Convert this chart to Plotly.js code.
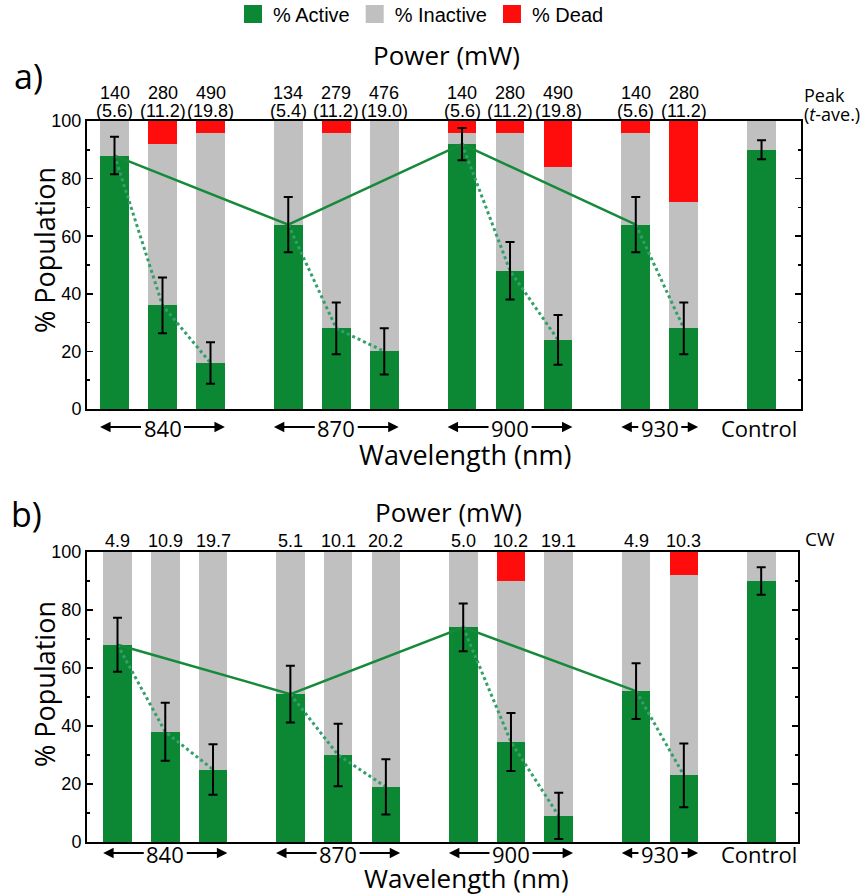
<!DOCTYPE html>
<html><head><meta charset="utf-8">
<script src="https://cdn.plot.ly/plotly-3.0.1.min.js"></script>
<style>html,body{margin:0;padding:0;background:#fff}#chart{width:862px;height:896px}</style>
</head><body><div id="chart"></div>
<script>
// ---------- data ----------
const wavelengths = ["840", "870", "900", "930"];
const controlLabel = "Control";
const barGroup = [0, 0, 0, 1, 1, 1, 2, 2, 2, 3, 3, 4];   // 4 = control

// panel a (pulsed): peak power (time-averaged power)
const peakPowerA = ["140", "280", "490", "134", "279", "476", "140", "280", "490", "140", "280", ""];
const avePowerA  = ["(5.6)", "(11.2)", "(19.8)", "(5.4)", "(11.2)", "(19.0)", "(5.6)", "(11.2)", "(19.8)", "(5.6)", "(11.2)", ""];
const activeA   = [88, 36, 16, 64, 28, 20, 92, 48, 24, 64, 28, 90];
const inactiveA = [12, 56, 80, 36, 68, 80, 4, 48, 60, 32, 44, 10];
const deadA     = [0, 8, 4, 0, 4, 0, 4, 4, 16, 4, 28, 0];
const errA      = [6.5, 9.7, 7.2, 9.6, 9, 8, 5.6, 10, 8.6, 9.6, 9, 3.3];

// panel b (CW): power
const cwPowerB  = ["4.9", "10.9", "19.7", "5.1", "10.1", "20.2", "5.0", "10.2", "19.1", "4.9", "10.3", ""];
const activeB   = [68, 38, 25, 51, 30, 19, 74, 34.5, 9, 52, 23, 90];
const inactiveB = [32, 62, 75, 49, 70, 81, 26, 55.5, 91, 48, 69, 10];
const deadB     = [0, 0, 0, 0, 0, 0, 0, 10, 0, 0, 8, 0];
const errB      = [9.3, 10, 8.7, 9.8, 10.8, 9.5, 8.2, 10, 8, 9.6, 11, 4.7];

// ---------- style ----------
const GREEN = "#0c8733", GRAY = "#c0c0c0", RED = "#ff0d0d";
const LINE_SOLID = "#168a3a", LINE_DOT = "#33a06a";
const NUM_FONT = "Liberation Sans, Arial, sans-serif";
const TXT_FONT = "Open Sans, Noto Sans, sans-serif";

// x positions: sequential slots plus extra gap between wavelength groups
const xs = barGroup.map((g, i) => i + 0.62 * g);
const BAR_W = 0.6;

// plot-area pixel geometry helpers (for paper-positioned labels)
const ML = 87, MR = 61, MT = 121, MB = 54, W = 862, H = 896;
const PW = W - ML - MR, PH = H - MT - MB;
const px = x => (x - ML) / PW;
const py = y => (H - MB - y) / PH;

function panelTraces(active, inactive, dead, err, xa, ya) {
  const t = [];
  t.push({type: "bar", x: xs, y: active, width: BAR_W, marker: {color: GREEN}, name: "% Active", showlegend: false, xaxis: xa, yaxis: ya, hoverinfo: "y"});
  t.push({type: "bar", x: xs, y: inactive, width: BAR_W, marker: {color: GRAY}, name: "% Inactive", showlegend: false, xaxis: xa, yaxis: ya, hoverinfo: "y"});
  t.push({type: "bar", x: xs, y: dead, width: BAR_W, marker: {color: RED}, name: "% Dead", showlegend: false, xaxis: xa, yaxis: ya, hoverinfo: "y"});
  // solid line: lowest power of each wavelength
  const sx = [], sy = [];
  wavelengths.forEach((w, g) => { const i = barGroup.indexOf(g); sx.push(xs[i]); sy.push(active[i]); });
  t.push({type: "scatter", mode: "lines", x: sx, y: sy, line: {color: LINE_SOLID, width: 2.5}, showlegend: false, xaxis: xa, yaxis: ya, hoverinfo: "skip"});
  // dotted lines within each wavelength
  const dx = [], dy = [];
  wavelengths.forEach((w, g) => {
    barGroup.forEach((bg, i) => { if (bg === g) { dx.push(xs[i]); dy.push(active[i]); } });
    dx.push(null); dy.push(null);
  });
  t.push({type: "scatter", mode: "lines", x: dx, y: dy, connectgaps: false, line: {color: LINE_DOT, width: 3, dash: "dot"}, showlegend: false, xaxis: xa, yaxis: ya, hoverinfo: "skip"});
  // error bars on top
  t.push({type: "scatter", mode: "markers", x: xs, y: active, marker: {size: 2, color: "rgba(0,0,0,0)"},
    error_y: {type: "data", array: err, visible: true, color: "black", thickness: 2, width: 4.5},
    showlegend: false, xaxis: xa, yaxis: ya, hoverinfo: "skip"});
  return t;
}

const traces = [
  ...panelTraces(activeA, inactiveA, deadA, errA, "x", "y"),
  ...panelTraces(activeB, inactiveB, deadB, errB, "x2", "y2"),
];
// legend entries
[["% Active", GREEN], ["% Inactive", GRAY], ["% Dead", RED]].forEach(([n, c]) => {
  traces.push({type: "scatter", mode: "markers", x: [null], y: [null], name: n,
    marker: {symbol: "square", size: 16, color: c, line: {color: c, width: 2}}, xaxis: "x", yaxis: "y", hoverinfo: "skip"});
});

const ann = [];
function txt(text, x, y, size, font, extra) {
  ann.push(Object.assign({text, x, y, xref: "paper", yref: "paper", showarrow: false,
    font: {size, family: font, color: "black"}, xanchor: "center", yanchor: "middle"}, extra || {}));
}

// power labels
xs.forEach((x, i) => {
  if (peakPowerA[i]) {
    ann.push({text: avePowerA[i], x, y: 100, xref: "x", yref: "y", yanchor: "bottom", yshift: -1, borderpad: 0, showarrow: false, font: {size: 18, family: NUM_FONT, color: "black"}});
    ann.push({text: peakPowerA[i], x, y: 100, xref: "x", yref: "y", yanchor: "bottom", yshift: 17, borderpad: 0, showarrow: false, font: {size: 18, family: NUM_FONT, color: "black"}});
  }
  if (cwPowerB[i]) {
    ann.push({text: cwPowerB[i], x, y: 100, xref: "x2", yref: "y2", yanchor: "bottom", yshift: 0, borderpad: 0, showarrow: false, font: {size: 18, family: NUM_FONT, color: "black"}});
  }
});

// wavelength group labels with arrows
function groupLabels(xr, yPix, pxPerUnit) {
  const yv = py(yPix);
  wavelengths.forEach((w, g) => {
    const idx = barGroup.map((bg, i) => bg === g ? i : -1).filter(i => i >= 0);
    const left = xs[idx[0]] - BAR_W / 2, right = xs[idx[idx.length - 1]] + BAR_W / 2;
    const c = (left + right) / 2;
    const half = 20 / pxPerUnit;
    ann.push({text: w, x: c, y: yv, xref: xr, yref: "paper", showarrow: false, yanchor: "middle", yshift: -1, borderpad: 0, font: {size: 22, family: TXT_FONT, color: "black"}});
    [[left, c - half], [right, c + half]].forEach(([tip, tail]) => {
      ann.push({text: "", x: tip, y: yv, xref: xr, yref: "paper", ax: tail, ay: 0, axref: xr, ayref: "pixel",
        showarrow: true, arrowhead: 2, arrowsize: 0.95, arrowwidth: 2.2, arrowcolor: "black", standoff: 0});
    });
  });
  const ci = barGroup.indexOf(4);
  ann.push({text: controlLabel, x: xs[ci] - 0.05, y: yv, xref: xr, yref: "paper", showarrow: false, yanchor: "middle", yshift: -1, borderpad: 0, font: {size: 22, family: TXT_FONT, color: "black"}});
}
groupLabels("x", 427, 48);
groupLabels("x2", 853, 47.75);

// titles
txt("a)", px(28), py(76), 34, TXT_FONT);
txt("b)", px(27), py(514), 34, TXT_FONT);
txt("Power (mW)", px(446), py(55), 26, TXT_FONT);
txt("Power (mW)", px(448), py(512), 26, TXT_FONT);
txt("Wavelength (nm)", px(465), py(454), 27, TXT_FONT, {borderpad: 0});
txt("Wavelength (nm)", px(466), py(878), 26, TXT_FONT, {borderpad: 0});
txt("% Population", px(44), py(250), 27, TXT_FONT, {textangle: -90});
txt("% Population", px(44), py(684), 27, TXT_FONT, {textangle: -90});
txt("Peak", px(803), py(95), 18, TXT_FONT, {xanchor: "left", borderpad: 0});
txt("(<i>t</i>-ave.)", px(803), py(114), 18, TXT_FONT, {xanchor: "left", borderpad: 0});
txt("CW", px(803), py(539), 19, TXT_FONT, {xanchor: "left"});

const yBase = {
  range: [0, 100], dtick: 20, tick0: 0, ticks: "inside", ticklen: 6, tickwidth: 1.5, tickcolor: "black",
  minor: {dtick: 10, ticks: "inside", ticklen: 3, tickwidth: 1.5, tickcolor: "black"},
  showline: true, linewidth: 2, linecolor: "black", mirror: "ticks", showgrid: false, zeroline: false,
  tickfont: {size: 18, family: NUM_FONT, color: "black"}, fixedrange: true
};
const xBase = {
  showline: true, linewidth: 2, linecolor: "black", mirror: true, showgrid: false, zeroline: false,
  showticklabels: false, ticks: "", fixedrange: true
};

const layout = {
  width: W, height: H, margin: {l: ML, r: MR, t: MT, b: MB, pad: 0, autoexpand: false},
  paper_bgcolor: "white", plot_bgcolor: "white", barmode: "stack", bargap: 0,
  xaxis: Object.assign({}, xBase, {range: [-0.573, 14.302], domain: [0, 1], anchor: "y"}),
  yaxis: Object.assign({}, yBase, {domain: [py(409), 1], anchor: "x"}),
  xaxis2: Object.assign({}, xBase, {range: [-0.639, 14.251], domain: [0, 711 / 714], anchor: "y2"}),
  yaxis2: Object.assign({}, yBase, {domain: [0, py(552)], anchor: "x2"}),
  showlegend: true,
  legend: {orientation: "h", traceorder: "normal", x: px(233), y: py(14), xanchor: "left", yanchor: "middle",
    font: {size: 20, family: NUM_FONT, color: "black"}, bgcolor: "rgba(0,0,0,0)", itemclick: false, itemdoubleclick: false},
  annotations: ann
};

Plotly.newPlot("chart", traces, layout, {displayModeBar: false, staticPlot: true});
</script></body></html>
